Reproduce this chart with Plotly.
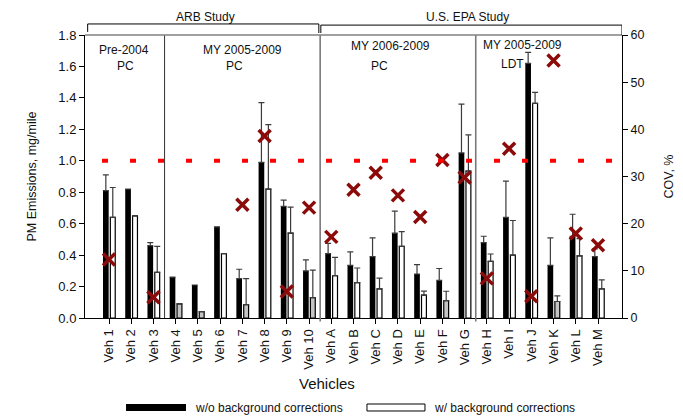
import plotly.graph_objects as go

vehicles = ["Veh 1", "Veh 2", "Veh 3", "Veh 4", "Veh 5", "Veh 6", "Veh 7", "Veh 8", "Veh 9", "Veh 10",
            "Veh A", "Veh B", "Veh C", "Veh D", "Veh E", "Veh F", "Veh G", "Veh H", "Veh I", "Veh J",
            "Veh K", "Veh L", "Veh M"]

pm_without_bg = [0.81, 0.82, 0.46, 0.26, 0.21, 0.58, 0.25, 0.99, 0.71, 0.30,
                 0.41, 0.335, 0.39, 0.54, 0.28, 0.24, 1.05, 0.48, 0.64, 1.62,
                 0.335, 0.52, 0.39]
err_without_bg = [0.10, None, 0.02, None, None, None, 0.06, 0.38, 0.04, 0.07,
                  0.065, 0.085, 0.12, 0.14, 0.06, 0.075, 0.31, 0.04, 0.23, 0.07,
                  0.175, 0.14, 0.05]

pm_with_bg = [0.64, 0.65, 0.29, 0.09, 0.04, 0.41, 0.085, 0.82, 0.54, 0.13,
              0.27, 0.225, 0.185, 0.455, 0.145, 0.11, 0.935, 0.36, 0.40, 1.365,
              0.105, 0.395, 0.185]
err_with_bg = [0.19, None, 0.165, None, None, None, 0.165, 0.41, 0.165, 0.175,
               0.115, 0.093, 0.068, 0.095, 0.026, 0.06, 0.23, 0.047, 0.22, 0.07,
               0.036, 0.11, 0.057]

# vehicles whose background-corrected value is shaded grey in the original
grey_vehicles = ["Veh 4", "Veh 5", "Veh 7", "Veh 10", "Veh F", "Veh K"]

cov_pct = [12.4, None, 4.4, None, None, None, 24.0, 38.6, 5.6, 23.4,
           17.2, 27.2, 30.8, 26.0, 21.4, 33.5, 29.8, 8.4, 35.9, 4.6,
           54.6, 17.9, 15.4]

threshold = 1.0
group_breaks = [2.5, 9.5, 16.5]

FONT = "Liberation Sans, Arial, sans-serif"
n = len(vehicles)

fig = go.Figure()

fig.add_trace(go.Bar(
    x=vehicles, y=pm_without_bg, name="w/o background corrections",
    marker=dict(color="black", line=dict(width=0)),
    offset=-0.27, width=0.255,
    error_y=dict(type="data", array=err_without_bg, arrayminus=[0] * n, symmetric=False,
                 color="#3c3c3c", thickness=1.2, width=3),
    showlegend=False,
))

fill_with = ["#c4c4c4" if v in grey_vehicles else "white" for v in vehicles]
fig.add_trace(go.Bar(
    x=vehicles, y=pm_with_bg, name="w/ background corrections",
    marker=dict(color=fill_with, line=dict(width=1.2, color="black")),
    offset=0.06, width=0.22,
    error_y=dict(type="data", array=err_with_bg, arrayminus=[0] * n, symmetric=False,
                 color="#3c3c3c", thickness=1.2, width=3),
    showlegend=False,
))

fig.add_trace(go.Scatter(
    x=vehicles, y=cov_pct, yaxis="y2", mode="markers", name="COV",
    marker=dict(symbol="x-thin", size=12, line=dict(width=3.5, color="#8b0a0a")),
    showlegend=False,
))

shapes = []
# threshold line
shapes.append(dict(type="line", xref="paper", yref="y", x0=0.0317, x1=1, y0=threshold, y1=threshold,
                   line=dict(color="#ff0000", width=4, dash="6px,22px"), layer="above"))
# group separators
for i, b in enumerate(group_breaks):
    shapes.append(dict(type="line", xref="x", yref="paper", x0=b, x1=b, y0=-0.012 if i else 0, y1=1,
                       line=dict(color="#333333" if i == 0 else "#7a7a7a", width=1 if i == 0 else 1.6)))
# top border
shapes.append(dict(type="line", xref="paper", yref="paper", x0=0, x1=1, y0=1, y1=1,
                   line=dict(color="#808080", width=1.6)))
# study brackets
shapes.append(dict(type="path", xref="x", yref="paper",
                   path="M -0.96,1.011 L -0.96,1.039 L 9.44,1.039 L 9.44,1.007",
                   line=dict(color="black", width=1)))
shapes.append(dict(type="path", xref="x", yref="paper",
                   path="M 9.53,1.007 L 9.53,1.035 L 23.08,1.035 L 23.08,1.0",
                   line=dict(color="black", width=1)))
# manual legend swatches
shapes.append(dict(type="rect", xref="paper", yref="paper", x0=0.0764, x1=0.1881, y0=-0.3286, y1=-0.3039,
                   fillcolor="black", line=dict(width=0)))
shapes.append(dict(type="rect", xref="paper", yref="paper", x0=0.5251, x1=0.6331, y0=-0.3286, y1=-0.3039,
                   fillcolor="white", line=dict(width=1, color="black")))

def ann(text, x, y, size=12, **kw):
    d = dict(text=text, x=x, y=y, xref="paper", yref="paper", showarrow=False,
             font=dict(family=FONT, size=size, color="#111111"), xanchor="center", yanchor="middle")
    d.update(kw)
    return d

annotations = [
    ann("ARB Study", 0.2253, 1.064, borderpad=0),
    ann("U.S. EPA Study", 0.7132, 1.062, borderpad=0),
    ann("Pre-2004", 0.0726, 0.947),
    ann("PC", 0.0745, 0.8905),
    ann("MY 2005-2009", 0.2924, 0.947),
    ann("PC", 0.2793, 0.8905),
    ann("MY 2006-2009", 0.568, 0.961),
    ann("PC", 0.5493, 0.8905),
    ann("MY 2005-2009", 0.8156, 0.9647),
    ann("LDT", 0.797, 0.8975),
    ann("Vehicles", 0.4507, -0.2297, size=15),
    ann("PM Emissions, mg/mile", -0.0987, 0.5, size=12.5, textangle=-90),
    ann("COV, %", 1.0857, 0.5, size=12.5, textangle=-90),
    ann("w/o background corrections", 0.2011, -0.318, xanchor="left"),
    ann("w/ background corrections", 0.6462, -0.318, xanchor="left"),
]

# the page body adds an 8px offset, so the figure is 8px smaller and left/top margins 8px less
fig.update_layout(
    width=675, height=408,
    margin=dict(l=77, r=61, t=27, b=98),
    paper_bgcolor="white", plot_bgcolor="white",
    font=dict(family=FONT, size=13, color="#111111"),
    barmode="overlay",
    xaxis=dict(type="category", range=[-1.08, 23.08], showline=True, linecolor="black", linewidth=1,
               ticks="outside", ticklen=5, tickcolor="black", tickangle=-90, showgrid=False,
               tickfont=dict(size=13), zeroline=False),
    yaxis=dict(range=[0, 1.8], dtick=0.2, tickformat=".1f", showline=True, linecolor="black",
               linewidth=1, ticks="outside", ticklen=5, tickcolor="black", showgrid=False,
               zeroline=False, tickfont=dict(size=13)),
    yaxis2=dict(range=[0, 60], dtick=10, overlaying="y", side="right", showline=True,
                linecolor="black", linewidth=1, ticks="outside", ticklen=5, tickcolor="black",
                showgrid=False, zeroline=False, tickfont=dict(size=12.5)),
    shapes=shapes,
    annotations=annotations,
    showlegend=False,
)

fig.write_html("out.html")
